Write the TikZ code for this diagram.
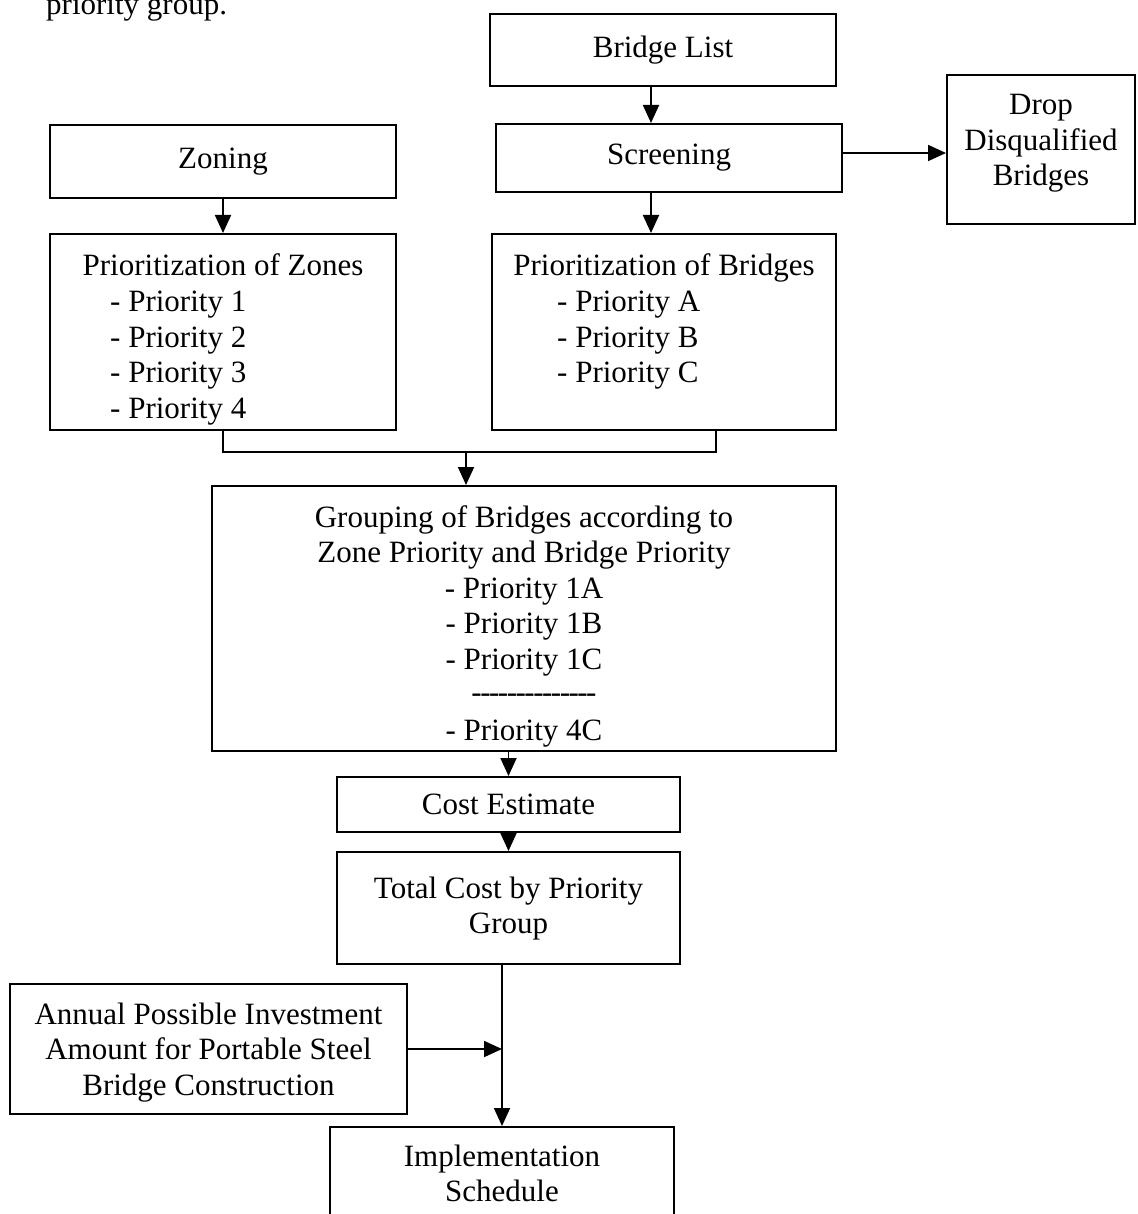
\documentclass[tikz,border=0pt]{standalone}
\usepackage{fontspec}
\setmainfont{Liberation Serif}
\usetikzlibrary{arrows.meta}
\newcommand{\hy}{\mbox{-}\hspace{-1.5pt}}
\begin{document}
\begin{tikzpicture}[x=1pt,y=-1pt,
  box/.style={draw, line width=2pt, inner sep=0pt, font=\fontsize{31}{35.5}\selectfont},
  txt/.style={font=\fontsize{31}{35.5}\selectfont, inner sep=0pt},
  arr/.style={line width=1.8pt, -{Triangle[length=18pt,width=16pt]}},
  ln/.style={line width=1.8pt}]
\useasboundingbox (0,0) rectangle (1137,1214);
\fill[white] (0,0) rectangle (1137,1214);

\node[txt, anchor=base west] (cap) at (46,15) {priority group.};

% boxes
\node[box, minimum width=346pt, minimum height=72pt] (bl) at (663,50) {Bridge List};
\node[box, minimum width=346pt, minimum height=68pt] (scr) at (669,158) {Screening};
\node[box, minimum width=188pt, minimum height=149pt] (drop) at (1041,149.5) {};
\node[box, minimum width=346pt, minimum height=73pt] (zon) at (223,161.5) {Zoning};
\node[box, minimum width=346pt, minimum height=196pt] (pz) at (223,332) {};
\node[box, minimum width=344pt, minimum height=196pt] (pb) at (664,332) {};
\node[box, minimum width=624pt, minimum height=265pt] (grp) at (524,618.5) {};
\node[box, minimum width=343pt, minimum height=55pt] (cost) at (508.5,804.5) {Cost Estimate};
\node[box, minimum width=343pt, minimum height=112pt] (tot) at (508.5,908) {};
\node[box, minimum width=397pt, minimum height=130pt] (ann) at (208.5,1049) {};
\node[box, minimum width=344pt, minimum height=100pt] (imp) at (502,1177) {};

% texts
\node[txt, anchor=base] (d1) at (1041,115) {Drop};
\node[txt, anchor=base] (d2) at (1041,150.5) {Disqualified};
\node[txt, anchor=base] (d3) at (1041,186) {Bridges};

\node[txt, anchor=base] (pzt) at (223,276) {Prioritization of Zones};
\foreach \t [count=\i] in {1,2,3,4}
  \node[txt, anchor=base west] (pz\i) at (110,276+35.5*\i) {- Priority \t};

\node[txt, anchor=base] (pbt) at (664,276) {Prioritization of Bridges};
\foreach \t [count=\i] in {A,B,C}
  \node[txt, anchor=base west] (pb\i) at (557,276+35.5*\i) {- Priority \t};

\node[txt, anchor=base] (g1) at (524,527) {Grouping of Bridges according to};
\node[txt, anchor=base] (g2) at (524,562.5) {Zone Priority and Bridge Priority};
\node[txt, anchor=base] (g3) at (524,598) {- Priority 1A};
\node[txt, anchor=base] (g4) at (524,633.5) {- Priority 1B};
\node[txt, anchor=base] (g5) at (524,669) {- Priority 1C};
\node[txt, anchor=base] (g6) at (534,702) {\hy\hy\hy\hy\hy\hy\hy\hy\hy\hy\hy\hy\hy\mbox{-}};
\node[txt, anchor=base] (g7) at (524,740) {- Priority 4C};

\node[txt, anchor=base] (t1) at (508.5,898) {Total Cost by Priority};
\node[txt, anchor=base] (t2) at (508.5,933) {Group};

\node[txt, anchor=base] (a1) at (208.5,1024) {Annual Possible Investment};
\node[txt, anchor=base] (a2) at (208.5,1059.5) {Amount for Portable Steel};
\node[txt, anchor=base] (a3) at (208.5,1095) {Bridge Construction};

\node[txt, anchor=base] (i1) at (502,1166) {Implementation};
\node[txt, anchor=base] (i2) at (502,1201.5) {Schedule};

% connectors
\draw[arr] ([xshift=-12pt]bl.south) -- ([xshift=-12pt]bl.south |- scr.north);
\draw[arr] ([xshift=-18pt]scr.south) -- ([xshift=-18pt]scr.south |- pb.north);
\draw[arr] ([yshift=5pt]scr.east) -- ([yshift=5pt]scr.east -| drop.west);
\draw[arr] (zon.south) -- (pz.north);
\coordinate (jr) at (716,430);
\coordinate (jm) at (466,452);
\draw[ln] (pz.south) |- (jm) -| (jr);
\draw[arr] (jm) -- (jm |- grp.north);
\draw[arr] (cost.north |- grp.south) -- (cost.north);
\draw[arr] (cost.south) -- (tot.north);
\draw[arr] (tot.south -| imp.north) -- (imp.north);
\draw[arr] (ann.east) -- (ann.east -| imp.north);
\end{tikzpicture}
\end{document}
